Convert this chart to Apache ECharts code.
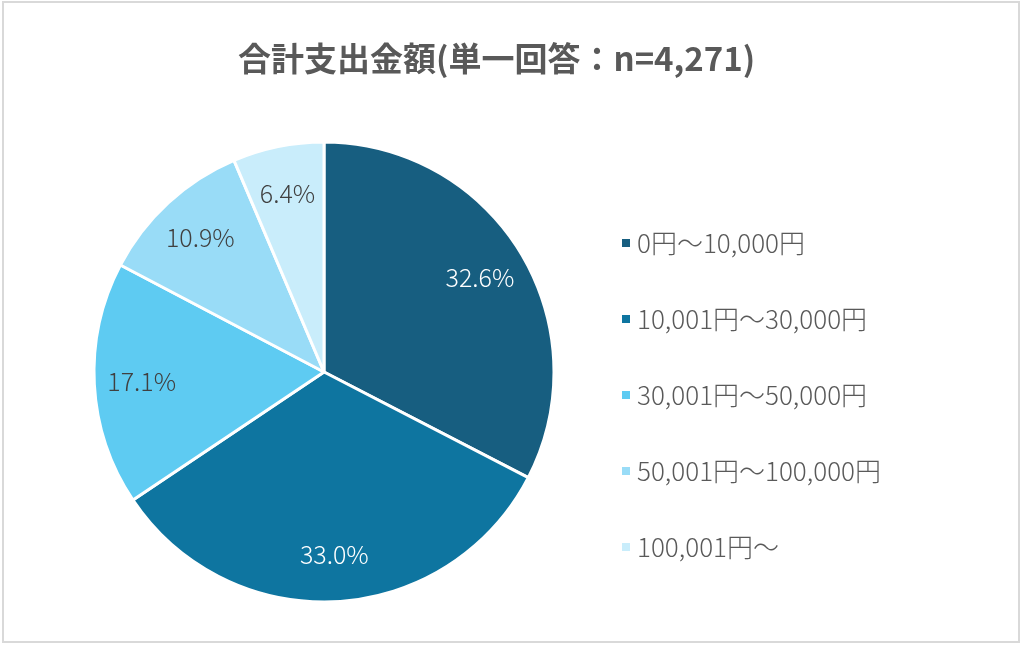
<!DOCTYPE html>
<html>
<head>
<meta charset="utf-8">
<script src="https://cdn.jsdelivr.net/npm/echarts@6/dist/echarts.min.js"></script>
<style>
html, body { margin: 0; padding: 0; background: #fff; }
#main { width: 1024px; height: 648px; }
</style>
</head>
<body>
<div id="main"></div>
<script>
var categories = ['0円～10,000円', '10,001円～30,000円', '30,001円～50,000円', '50,001円～100,000円', '100,001円～'];
var shares = [32.6, 33.0, 17.1, 10.9, 6.4];
var colors = ['#175e80', '#0e75a0', '#5ecbf2', '#99dcf7', '#c9edfb'];
var labelColors = ['#ffffff', '#ffffff', '#404040', '#404040', '#404040'];

var font = '"Noto Sans CJK JP", "Noto Sans", sans-serif';

var pieData = [];
var labelData = [];
for (var i = 0; i < categories.length; i++) {
	pieData.push({ name: categories[i], value: shares[i], itemStyle: { color: colors[i] } });
	labelData.push({ name: categories[i], value: shares[i], label: { color: labelColors[i] } });
}

var chart = echarts.init(document.getElementById('main'), null, { renderer: 'canvas' });

var option = {
	animation: false,
	title: {
		text: '合計支出金額(単一回答：n=4,271)',
		left: 233,
		top: 37,
		textStyle: { fontFamily: font, fontSize: 33, fontWeight: 'bold', color: '#595959' }
	},
	legend: {
		orient: 'vertical',
		left: 615,
		top: 225,
		itemWidth: 10,
		itemHeight: 10,
		itemGap: 50,
		icon: 'rect',
		data: categories,
		textStyle: { fontFamily: font, fontSize: 26, lineHeight: 26, fontWeight: 300, color: '#595959', padding: [0, 0, 0, 1] }
	},
	graphic: [{
		type: 'rect',
		shape: { x: 3, y: 2, width: 1016, height: 640 },
		style: { fill: 'none', stroke: '#d9d9d9', lineWidth: 2 },
		silent: true
	}],
	series: [
		{
			type: 'pie',
			center: [324, 372],
			radius: [0, 230],
			startAngle: 90,
			clockwise: true,
			data: pieData,
			label: { show: false },
			labelLine: { show: false },
			itemStyle: { borderColor: '#ffffff', borderWidth: 3 }
		},
		{
			// overlay only for labels at ~0.78 of the radius
			type: 'pie',
			center: [324, 372],
			radius: [129, 230],
			startAngle: 90,
			clockwise: true,
			silent: true,
			data: labelData,
			itemStyle: { color: 'rgba(0,0,0,0)', borderWidth: 0 },
			label: {
				show: true,
				position: 'inside',
				fontFamily: font,
				fontSize: 25,
				fontWeight: 300,
				formatter: function (p) { return p.value.toFixed(1) + '%'; }
			},
			labelLine: { show: false }
		}
	]
};

chart.setOption(option);
</script>
</body>
</html>
